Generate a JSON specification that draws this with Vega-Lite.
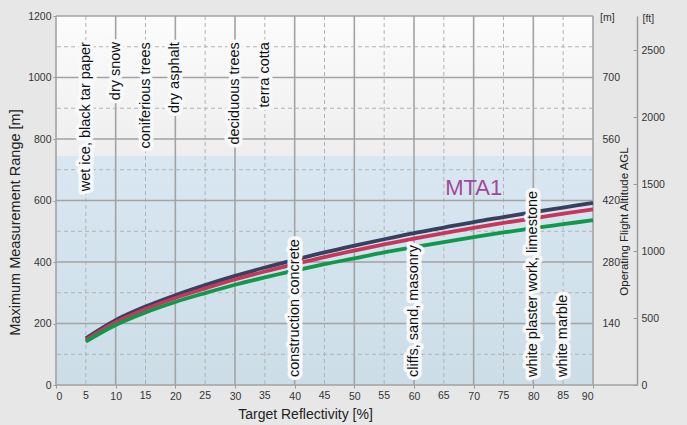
{
  "$schema": "https://vega.github.io/schema/vega-lite/v6.json",
  "width": 537,
  "height": 369,
  "autosize": {"type": "none"},
  "padding": {"left": 56, "top": 16, "right": 94, "bottom": 40},
  "background": "#e7e7e7",
  "config": {
    "view": {"stroke": null},
    "font": "Liberation Sans",
    "axis": {
      "labelFont": "Liberation Sans",
      "labelFontSize": 10.5,
      "labelColor": "#333333",
      "labelOverlap": false,
      "labelSeparation": 0,
      "titleFont": "Liberation Sans",
      "titleFontWeight": "normal",
      "titleColor": "#222222",
      "tickColor": "#999999",
      "domainColor": "#9a9a9a",
      "grid": false
    }
  },
  "datasets": {
    "curves": [
      {"x": 5, "y": 152, "series": "s1"}, {"x": 10, "y": 211, "series": "s1"}, {"x": 15, "y": 255, "series": "s1"}, {"x": 20, "y": 292, "series": "s1"}, {"x": 25, "y": 325, "series": "s1"}, {"x": 30, "y": 355, "series": "s1"}, {"x": 35, "y": 382, "series": "s1"}, {"x": 40, "y": 407, "series": "s1"}, {"x": 45, "y": 431, "series": "s1"}, {"x": 50, "y": 453, "series": "s1"}, {"x": 55, "y": 474, "series": "s1"}, {"x": 60, "y": 494, "series": "s1"}, {"x": 65, "y": 512, "series": "s1"}, {"x": 70, "y": 530, "series": "s1"}, {"x": 75, "y": 546, "series": "s1"}, {"x": 80, "y": 562, "series": "s1"}, {"x": 85, "y": 577, "series": "s1"}, {"x": 90, "y": 592, "series": "s1"},
      {"x": 5, "y": 147, "series": "s2"}, {"x": 10, "y": 204, "series": "s2"}, {"x": 15, "y": 247, "series": "s2"}, {"x": 20, "y": 283, "series": "s2"}, {"x": 25, "y": 314, "series": "s2"}, {"x": 30, "y": 343, "series": "s2"}, {"x": 35, "y": 369, "series": "s2"}, {"x": 40, "y": 393, "series": "s2"}, {"x": 45, "y": 416, "series": "s2"}, {"x": 50, "y": 437, "series": "s2"}, {"x": 55, "y": 457, "series": "s2"}, {"x": 60, "y": 476, "series": "s2"}, {"x": 65, "y": 494, "series": "s2"}, {"x": 70, "y": 511, "series": "s2"}, {"x": 75, "y": 527, "series": "s2"}, {"x": 80, "y": 542, "series": "s2"}, {"x": 85, "y": 557, "series": "s2"}, {"x": 90, "y": 571, "series": "s2"},
      {"x": 5, "y": 141, "series": "s3"}, {"x": 10, "y": 195, "series": "s3"}, {"x": 15, "y": 236, "series": "s3"}, {"x": 20, "y": 270, "series": "s3"}, {"x": 25, "y": 299, "series": "s3"}, {"x": 30, "y": 326, "series": "s3"}, {"x": 35, "y": 350, "series": "s3"}, {"x": 40, "y": 372, "series": "s3"}, {"x": 45, "y": 393, "series": "s3"}, {"x": 50, "y": 412, "series": "s3"}, {"x": 55, "y": 431, "series": "s3"}, {"x": 60, "y": 448, "series": "s3"}, {"x": 65, "y": 465, "series": "s3"}, {"x": 70, "y": 481, "series": "s3"}, {"x": 75, "y": 496, "series": "s3"}, {"x": 80, "y": 510, "series": "s3"}, {"x": 85, "y": 523, "series": "s3"}, {"x": 90, "y": 536, "series": "s3"}
    ],
    "xgrid": [{"x": 0}, {"x": 5}, {"x": 10}, {"x": 15}, {"x": 20}, {"x": 25}, {"x": 30}, {"x": 35}, {"x": 40}, {"x": 45}, {"x": 50}, {"x": 55}, {"x": 60}, {"x": 65}, {"x": 70}, {"x": 75}, {"x": 80}, {"x": 85}, {"x": 90}],
    "ygrid": [{"y": 0}, {"y": 100}, {"y": 200}, {"y": 300}, {"y": 400}, {"y": 500}, {"y": 600}, {"y": 700}, {"y": 800}, {"y": 900}, {"y": 1000}, {"y": 1100}, {"y": 1200}],
    "labelsTop": [
      {"x": 5, "y": 1115, "label": "wet ice, black tar paper"},
      {"x": 10, "y": 1115, "label": "dry snow"},
      {"x": 15, "y": 1115, "label": "coniferious trees"},
      {"x": 20, "y": 1115, "label": "dry asphalt"},
      {"x": 30, "y": 1115, "label": "deciduous trees"},
      {"x": 35, "y": 1115, "label": "terra cotta"}
    ],
    "labelsBottom": [
      {"x": 40, "y": 26, "label": "construction concrete"},
      {"x": 60, "y": 26, "label": "cliffs, sand, masonry"},
      {"x": 80, "y": 26, "label": "white plaster work, limestone"},
      {"x": 85, "y": 26, "label": "white marble"}
    ]
  },
  "layer": [
    {
      "layer": [
        {
          "data": {"values": [{"x": 0, "x2": 90, "y": 745, "y2": 1200}]},
          "mark": {"type": "rect", "fill": {"gradient": "linear", "x1": 0, "y1": 0, "x2": 0, "y2": 1, "stops": [{"offset": 0, "color": "#fcfcfc"}, {"offset": 1, "color": "#eeeeee"}]}},
          "encoding": {
            "x": {"field": "x", "type": "quantitative", "scale": {"domain": [0, 90], "nice": false},
              "axis": {"values": [0, 5, 10, 15, 20, 25, 30, 35, 40, 45, 50, 55, 60, 65, 70, 75, 80, 85, 90], "tickCount": 18, "labelOverlap": false, "domain": false, "tickSize": 3, "labelPadding": 3, "format": "d", "title": "Target Reflectivity [%]", "titleFontSize": 14, "titleX": 249, "titleY": 33, "titleAnchor": "middle", "titleBaseline": "alphabetic"}},
            "x2": {"field": "x2"},
            "y": {"field": "y", "type": "quantitative", "scale": {"domain": [0, 1200], "nice": false},
              "axis": {"values": [0, 200, 400, 600, 800, 1000, 1200], "labelOverlap": false, "domain": false, "tickSize": 3, "labelPadding": 2, "format": "d", "title": "Maximum Measurement Range [m]", "titleFontSize": 14.5, "titleX": -41, "titleY": 206, "titleAngle": -90, "titleAlign": "center", "titleBaseline": "middle"}},
            "y2": {"field": "y2"}
          }
        },
        {
          "data": {"values": [{"x": 0, "x2": 90, "y": 0, "y2": 745}]},
          "mark": {"type": "rect", "fill": {"gradient": "linear", "x1": 0, "y1": 0, "x2": 0, "y2": 1, "stops": [{"offset": 0, "color": "#d8e7f1"}, {"offset": 1, "color": "#cddde7"}]}},
          "encoding": {
            "x": {"field": "x", "type": "quantitative"},
            "x2": {"field": "x2"},
            "y": {"field": "y", "type": "quantitative"},
            "y2": {"field": "y2"}
          }
        },
        {
          "data": {"name": "xgrid"},
          "mark": {"type": "rule"},
          "encoding": {
            "x": {"field": "x", "type": "quantitative"},
            "color": {"condition": {"test": "datum.x % 10 === 0", "value": "#a3a3a3"}, "value": "#b2b2b2"},
            "strokeWidth": {"condition": {"test": "datum.x % 10 === 0", "value": 1.6}, "value": 1},
            "strokeDash": {"condition": {"test": "datum.x % 10 === 0", "value": [1, 0]}, "value": [4, 3]}
          }
        },
        {
          "data": {"name": "xgrid"},
          "transform": [{"filter": "datum.x % 10 !== 0"}],
          "mark": {"type": "text", "align": "center", "baseline": "top", "dy": 6, "fontSize": 10.5, "color": "#333333", "font": "Liberation Sans"},
          "encoding": {
            "x": {"field": "x", "type": "quantitative"},
            "y": {"datum": 0, "type": "quantitative"},
            "text": {"field": "x", "type": "quantitative", "format": "d"}
          }
        },
        {
          "data": {"name": "ygrid"},
          "mark": {"type": "rule"},
          "encoding": {
            "y": {"field": "y", "type": "quantitative"},
            "color": {"condition": {"test": "datum.y % 200 === 0", "value": "#a3a3a3"}, "value": "#b2b2b2"},
            "strokeWidth": {"condition": {"test": "datum.y % 200 === 0", "value": 1.6}, "value": 1},
            "strokeDash": {"condition": {"test": "datum.y % 200 === 0", "value": [1, 0]}, "value": [4, 3]}
          }
        },
        {
          "data": {"values": [{"x": 90, "x2": 97.4, "y": 0}]},
          "mark": {"type": "rule", "color": "#a3a3a3", "strokeWidth": 1.6},
          "encoding": {
            "x": {"field": "x", "type": "quantitative"},
            "x2": {"field": "x2"},
            "y": {"field": "y", "type": "quantitative"}
          }
        },
        {
          "data": {"name": "curves"},
          "mark": {"type": "line", "strokeWidth": 3.8, "interpolate": "monotone"},
          "encoding": {
            "x": {"field": "x", "type": "quantitative"},
            "y": {"field": "y", "type": "quantitative"},
            "color": {"field": "series", "type": "nominal", "scale": {"domain": ["s1", "s2", "s3"], "range": ["#35425f", "#c9365b", "#10994b"]}, "legend": null}
          }
        },
        {
          "data": {"name": "labelsTop"},
          "mark": {"type": "text", "angle": -90, "align": "right", "baseline": "middle", "fontSize": 14.5, "fill": "#f7f9fa", "stroke": "#f7f9fa", "strokeWidth": 7, "strokeJoin": "round"},
          "encoding": {
            "x": {"field": "x", "type": "quantitative"},
            "y": {"field": "y", "type": "quantitative"},
            "text": {"field": "label"}
          }
        },
        {
          "data": {"name": "labelsTop"},
          "mark": {"type": "text", "angle": -90, "align": "right", "baseline": "middle", "fontSize": 14.5, "color": "#111111"},
          "encoding": {
            "x": {"field": "x", "type": "quantitative"},
            "y": {"field": "y", "type": "quantitative"},
            "text": {"field": "label"}
          }
        },
        {
          "data": {"name": "labelsBottom"},
          "mark": {"type": "text", "angle": -90, "align": "left", "baseline": "middle", "fontSize": 14.5, "fill": "#f7f9fa", "stroke": "#f7f9fa", "strokeWidth": 7, "strokeJoin": "round"},
          "encoding": {
            "x": {"field": "x", "type": "quantitative"},
            "y": {"field": "y", "type": "quantitative"},
            "text": {"field": "label"}
          }
        },
        {
          "data": {"name": "labelsBottom"},
          "mark": {"type": "text", "angle": -90, "align": "left", "baseline": "middle", "fontSize": 14.5, "color": "#111111"},
          "encoding": {
            "x": {"field": "x", "type": "quantitative"},
            "y": {"field": "y", "type": "quantitative"},
            "text": {"field": "label"}
          }
        },
        {
          "data": {"values": [{"x": 70, "y": 640, "label": "MTA1"}]},
          "mark": {"type": "text", "align": "center", "baseline": "middle", "fontSize": 22, "color": "#a3479b"},
          "encoding": {
            "x": {"field": "x", "type": "quantitative"},
            "y": {"field": "y", "type": "quantitative"},
            "text": {"field": "label"}
          }
        }
      ]
    },
    {
      "data": {"values": [{"y": 840, "t": "[m]"}]},
      "mark": {"type": "text", "align": "left", "baseline": "middle", "dx": 7, "dy": 2, "fontSize": 10.5, "color": "#333333"},
      "encoding": {
        "x": {"value": "width"},
        "y": {"field": "y", "type": "quantitative", "scale": {"domain": [0, 840], "nice": false},
          "axis": {"orient": "right", "values": [140, 280, 420, 560, 700], "format": "d", "domain": false, "ticks": false, "labelPadding": 9, "title": "Operating Flight Altitude AGL", "titleFontSize": 11.5, "titleAngle": -90, "titleX": 31, "titleY": 205, "titleAlign": "center", "titleBaseline": "middle"}},
        "text": {"field": "t"}
      }
    },
    {
      "data": {"values": [{"y": 0}]},
      "mark": {"type": "point", "opacity": 0},
      "encoding": {
        "x": {"value": "width"},
        "y": {"field": "y", "type": "quantitative", "scale": {"domain": [0, 2755.9], "nice": false},
          "axis": {"orient": "right", "offset": 44, "values": [0, 500, 1000, 1500, 2000, 2500], "format": "d", "domain": true, "domainWidth": 1.5, "tickSize": -4, "labelPadding": 8, "title": "[ft]", "titleFontSize": 10.5, "titleAngle": 0, "titleX": 5, "titleY": 2, "titleAlign": "left", "titleBaseline": "middle", "titleColor": "#333333"}}
      }
    }
  ],
  "resolve": {"scale": {"y": "independent"}}
}
